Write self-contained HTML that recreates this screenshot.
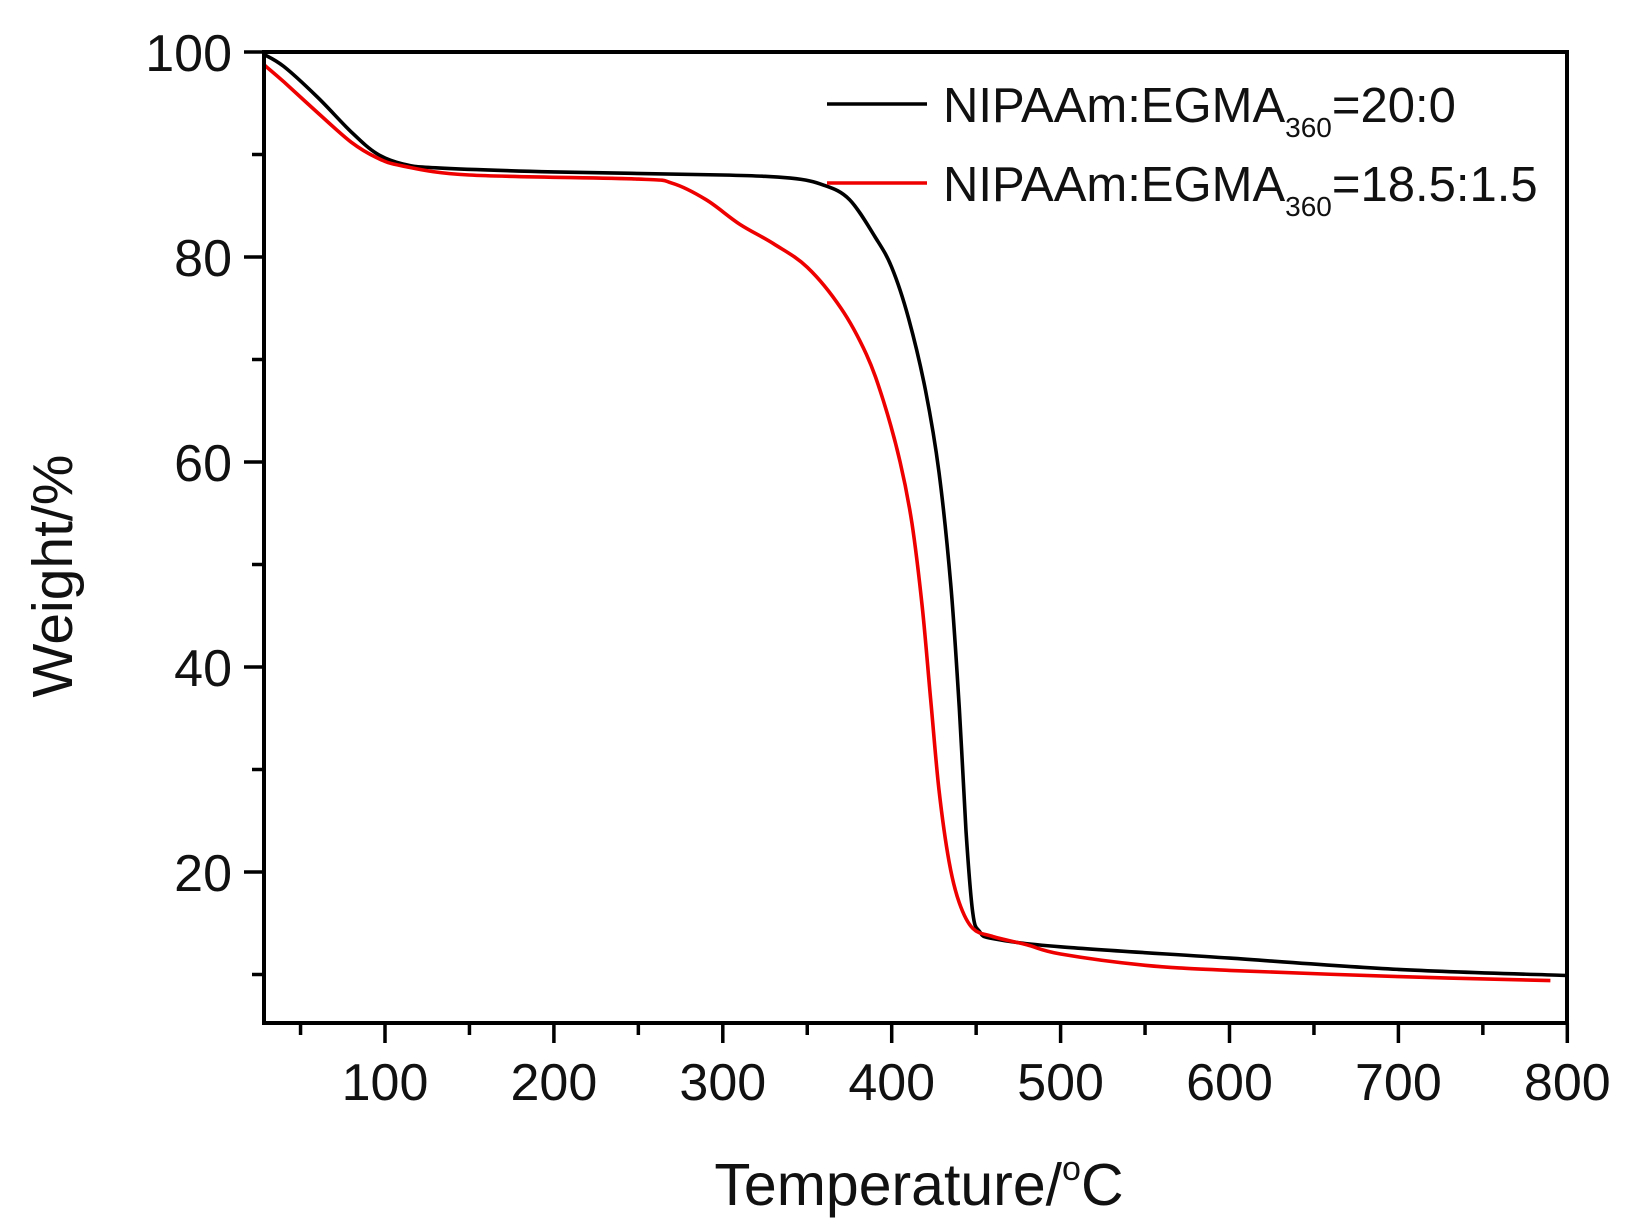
<!DOCTYPE html>
<html><head><meta charset="utf-8"><style>
html,body{margin:0;padding:0;background:#fff;}
svg{display:block;}
text{font-family:"Liberation Sans",Arial,sans-serif;fill:#111;}
</style></head><body>
<svg id="s" width="1637" height="1226" viewBox="0 0 1637 1226" xmlns="http://www.w3.org/2000/svg">
<g id="ticks" stroke="#000" stroke-width="3.5"></g>
<g id="series" fill="none" stroke-width="3.6" stroke-linejoin="round"></g>
<rect x="264" y="52" width="1303" height="971" fill="none" stroke="#000" stroke-width="4"/>
<g id="labels" font-size="52"></g>
<line x1="827" y1="104" x2="927" y2="104" stroke="#000" stroke-width="3.5"/>
<line x1="827" y1="183" x2="927" y2="183" stroke="#e00" stroke-width="3.5"/>
<text x="943" y="122" font-size="49">NIPAAm:EGMA<tspan font-size="28" dy="15">360</tspan><tspan dy="-15">=20:0</tspan></text>
<text x="943" y="201" font-size="49">NIPAAm:EGMA<tspan font-size="28" dy="15">360</tspan><tspan dy="-15">=18.5:1.5</tspan></text>
<text x="919" y="1205" font-size="59" text-anchor="middle">Temperature/<tspan font-size="34" dy="-25">o</tspan><tspan dy="25">C</tspan></text>
<text transform="translate(72,576) rotate(-90)" font-size="57" text-anchor="middle">Weight/%</text>
</svg>
<script>
var NS="http://www.w3.org/2000/svg";
function X(t){return 385+(t-100)*1.689;}
function Y(w){return 52+(100-w)*10.25;}
function el(tag,a,p){var e=document.createElementNS(NS,tag);for(var k in a)e.setAttribute(k,a[k]);p.appendChild(e);return e;}
var tk=document.getElementById('ticks'),lb=document.getElementById('labels');
for(var w=10;w<=100;w+=10){var y=Y(w);var maj=w%20==0;el('line',{x1:maj?244:252,y1:y,x2:264,y2:y},tk);
 if(maj){var t=el('text',{x:232,y:y+19,'text-anchor':'end'},lb);t.textContent=w;}}
for(var t=50;t<=800;t+=50){var x=X(t);var maj=t%100==0;el('line',{x1:x,y1:1023,x2:x,y2:maj?1043:1035},tk);
 if(maj){var e=el('text',{x:x,y:1100,'text-anchor':'middle'},lb);e.textContent=t;}}
var black=[[28,99.8],[40,98.6],[60,95.6],[80,92.2],[95,90.1],[110,89.1],[130,88.7],[200,88.3],[300,88],[340,87.7],[360,87],[375,85.6],[390,82],[400,79],[410,74],[420,67],[428,59],[435,48],[440,36],[444,24],[448,16],[452,14.2],[460,13.5],[500,12.7],[600,11.6],[700,10.5],[800,9.9]];
var red=[[28,98.8],[40,97.1],[60,94.1],[80,91.2],[95,89.7],[110,88.9],[150,88],[250,87.6],[270,87.2],[290,85.6],[310,83.2],[330,81.3],[350,79],[370,75],[385,70.5],[395,66],[405,60],[412,54],[418,46],[423,37],[428,28],[434,21],[440,17],[448,14.5],[460,13.7],[480,12.9],[500,12],[550,10.9],[600,10.4],[700,9.8],[790,9.4]];
var sg=document.getElementById('series');
function path(d,c){var P=d.map(function(q){return [X(q[0]),Y(q[1])];});
 var s='M'+P[0][0].toFixed(1)+','+P[0][1].toFixed(1);
 for(var i=0;i<P.length-1;i++){var p0=P[i>0?i-1:0],p1=P[i],p2=P[i+1],p3=P[i+2<P.length?i+2:i+1];
  var c1=[p1[0]+(p2[0]-p0[0])/6,p1[1]+(p2[1]-p0[1])/6],c2=[p2[0]-(p3[0]-p1[0])/6,p2[1]-(p3[1]-p1[1])/6];
  s+=' C'+c1[0].toFixed(1)+','+c1[1].toFixed(1)+' '+c2[0].toFixed(1)+','+c2[1].toFixed(1)+' '+p2[0].toFixed(1)+','+p2[1].toFixed(1);}
 el('path',{d:s,stroke:c},sg);}
path(black,'#000');path(red,'#e00');
</script>
</body></html>
